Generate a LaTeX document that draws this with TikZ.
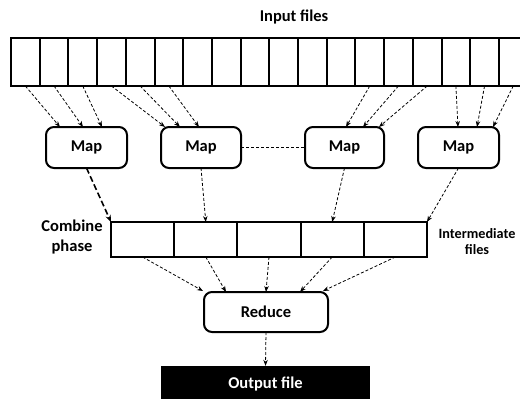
\documentclass[tikz,border=0pt]{standalone}
\usepackage{fontspec}
\setmainfont{Carlito}
\usetikzlibrary{arrows.meta}
\begin{document}
\begin{tikzpicture}[x=1pt,y=-1pt,
  cell/.style={draw,line width=2pt,minimum width=28.7pt,minimum height=48pt,inner sep=0pt,outer sep=0pt},
  icell/.style={draw,line width=2pt,minimum width=63.2pt,minimum height=35pt,inner sep=0pt,outer sep=0pt},
  proc/.style={draw,line width=2pt,rounded corners=8pt,inner sep=0pt,outer sep=0pt,
    font=\bfseries\fontsize{16.5}{19}\selectfont},
  flow/.style={-{Stealth[length=6pt,width=4.5pt]},line width=0.8pt,dash pattern=on 3pt off 2pt},
  boldflow/.style={-{Stealth[length=7pt,width=5.5pt]},line width=1.6pt,dash pattern=on 6pt off 3pt},
  link/.style={line width=0.8pt,dash pattern=on 3pt off 2pt},
  lbl/.style={font=\bfseries\fontsize{16.5}{19.5}\selectfont,align=center,inner sep=0pt},
  slbl/.style={font=\bfseries\fontsize{14.2}{16}\selectfont,align=center,inner sep=0pt},
]
\useasboundingbox (0,0) rectangle (520,399);
\begin{scope}
\clip (0,0) rectangle (520,399);

% input row of file blocks
\foreach \i in {1,...,18}
  \node[cell] (in\i) at ({11+28.7*(\i-0.5)},62) {};
\node[lbl] (inlabel) at (294,17) {Input files};

% map tasks
\node[proc,minimum width=81pt,minimum height=41pt] (map1) at (86.5,147.5) {Map};
\node[proc,minimum width=80pt,minimum height=41pt] (map2) at (201,147.5) {Map};
\node[proc,minimum width=79pt,minimum height=41pt] (map3) at (344.5,147.5) {Map};
\node[proc,minimum width=81pt,minimum height=41pt] (map4) at (458.5,147.5) {Map};
\draw[link] (map2) -- (map3);

% splits feeding each map
\draw[flow] (in1.south) -- ([xshift=14pt]map1.north west);
\draw[flow] (in2.south) -- ([xshift=37pt]map1.north west);
\draw[flow] (in3.south) -- ([xshift=56pt]map1.north west);
\draw[flow] (in4.south) -- ([xshift=4pt]map2.north west);
\draw[flow] (in5.south) -- ([xshift=19pt]map2.north west);
\draw[flow] (in6.south) -- ([xshift=38pt]map2.north west);
\draw[flow] (in13.south) -- ([xshift=41pt]map3.north west);
\draw[flow] (in14.south) -- ([xshift=58pt]map3.north west);
\draw[flow] (in15.south) -- ([xshift=74pt]map3.north west);
\draw[flow] (in16.south) -- ([xshift=40pt]map4.north west);
\draw[flow] (in17.south) -- ([xshift=59pt]map4.north west);
\draw[flow] (in18.south) -- ([xshift=75pt]map4.north west);

% intermediate files
\foreach \i in {1,...,5}
  \node[icell] (mid\i) at ({111+63.2*(\i-0.5)},239.5) {};
\node[lbl] (combine) at (72,237) {Combine\\phase};
\node[slbl] (midlabel) at (477,242) {Intermediate\\files};

\draw[boldflow] (map1.south) -- (mid1.north west);
\draw[flow] (map2.south) -- (mid2.north);
\draw[flow] (map3.south) -- (mid4.north);
\draw[flow] (map4.south) -- (mid5.north east);

% reduce
\node[proc,minimum width=124pt,minimum height=40pt] (reduce) at (266,312) {Reduce};
\draw[flow] (mid1.south) -- ([xshift=-1pt,yshift=1pt]reduce.north west);
\draw[flow] (mid2.south) -- ([xshift=22pt]reduce.north west);
\draw[flow] (mid3.south) -- ([xshift=62pt]reduce.north west);
\draw[flow] (mid4.south) -- ([xshift=96pt]reduce.north west);
\draw[flow] (mid5.south) -- ([xshift=119pt,yshift=1pt]reduce.north west);

% output
\node[fill=black,minimum width=209pt,minimum height=36pt,inner sep=0pt,
  text=white,font=\bfseries\fontsize{16.5}{19}\selectfont] (out) at (265.5,384) {Output file};
\draw[flow] (reduce.south) -- (out.north);
\end{scope}
\end{tikzpicture}
\end{document}
